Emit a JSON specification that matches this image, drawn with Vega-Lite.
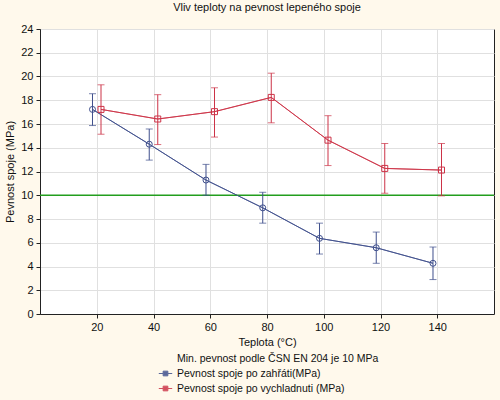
{
  "$schema": "https://vega.github.io/schema/vega-lite/v6.json",
  "width": 454,
  "height": 285,
  "autosize": {"type": "none"},
  "padding": {"left": 40, "top": 29, "right": 6, "bottom": 86},
  "background": "#fff9ec",
  "config": {
    "font": "Liberation Sans",
    "view": {"stroke": "#222", "strokeWidth": 1, "fill": "white"},
    "axis": {"labelFontSize": 11, "titleFontSize": 11, "titleFontWeight": "normal", "labelColor": "#111", "titleColor": "#111", "gridColor": "#e0e0e0", "domainColor": "#222", "tickColor": "#222", "tickSize": 4, "labelOverlap": false},
    "axisY": {"labelPadding": 3, "titlePadding": 5},
    "axisX": {"labelPadding": 3, "titlePadding": 4},
    "legend": {"labelFontSize": 10.5, "labelColor": "#111", "labelLimit": 0}
  },
  "title": {"text": "Vliv teploty na pevnost lepeného spoje", "fontSize": 11, "fontWeight": "normal", "color": "#111", "anchor": "middle", "offset": 10},
  "data": {"values": [
    {"s": "Pevnost spoje po zahřáti(MPa)", "x": 18.5, "y": 17.23, "lo": 15.87, "hi": 18.55},
    {"s": "Pevnost spoje po zahřáti(MPa)", "x": 38.5, "y": 14.3, "lo": 12.96, "hi": 15.58},
    {"s": "Pevnost spoje po zahřáti(MPa)", "x": 58.5, "y": 11.28, "lo": 10.0, "hi": 12.6},
    {"s": "Pevnost spoje po zahřáti(MPa)", "x": 78.5, "y": 8.94, "lo": 7.65, "hi": 10.25},
    {"s": "Pevnost spoje po zahřáti(MPa)", "x": 98.5, "y": 6.37, "lo": 5.05, "hi": 7.65},
    {"s": "Pevnost spoje po zahřáti(MPa)", "x": 118.5, "y": 5.58, "lo": 4.27, "hi": 6.9},
    {"s": "Pevnost spoje po zahřáti(MPa)", "x": 138.5, "y": 4.27, "lo": 2.9, "hi": 5.64},
    {"s": "Pevnost spoje po vychladnuti (MPa)", "x": 21.5, "y": 17.23, "lo": 15.14, "hi": 19.3},
    {"s": "Pevnost spoje po vychladnuti (MPa)", "x": 41.5, "y": 16.42, "lo": 14.27, "hi": 18.47},
    {"s": "Pevnost spoje po vychladnuti (MPa)", "x": 61.5, "y": 17.04, "lo": 14.9, "hi": 19.05},
    {"s": "Pevnost spoje po vychladnuti (MPa)", "x": 81.5, "y": 18.24, "lo": 16.1, "hi": 20.28},
    {"s": "Pevnost spoje po vychladnuti (MPa)", "x": 101.5, "y": 14.64, "lo": 12.5, "hi": 16.7},
    {"s": "Pevnost spoje po vychladnuti (MPa)", "x": 121.5, "y": 12.26, "lo": 10.17, "hi": 14.36},
    {"s": "Pevnost spoje po vychladnuti (MPa)", "x": 141.5, "y": 12.12, "lo": 9.95, "hi": 14.36}
  ]},
  "layer": [
    {
      "mark": {"type": "line", "strokeWidth": 1, "opacity": 0.85},
      "encoding": {
        "x": {"field": "x", "type": "quantitative", "title": "Teplota (°C)", "scale": {"domain": [0, 160], "nice": false, "zero": false}, "axis": {"values": [20, 40, 60, 80, 100, 120, 140]}},
        "y": {"field": "y", "type": "quantitative", "title": "Pevnost spoje (MPa)", "scale": {"domain": [0, 24], "nice": false}, "axis": {"values": [0, 2, 4, 6, 8, 10, 12, 14, 16, 18, 20, 22, 24]}},
        "color": {"field": "s", "type": "nominal",
          "scale": {"domain": ["Min. pevnost podle  ČSN EN 204 je 10 MPa", "Pevnost spoje po zahřáti(MPa)", "Pevnost spoje po vychladnuti (MPa)"], "range": ["rgba(0,0,0,0)", "#3f4f8c", "#cc3347"]},
          "legend": {"title": null, "orient": "none", "legendX": 118, "legendY": 322, "direction": "vertical", "rowPadding": 2, "symbolType": "M-1,0H-0.35M0.35,0H1M-0.35,-0.35H0.35V0.35H-0.35Z", "symbolSize": 180, "symbolStrokeWidth": 1, "symbolFillColor": "transparent", "symbolOpacity": 1}}
      }
    },
    {
      "data": {"values": [{"v": 10}]},
      "mark": {"type": "rule", "color": "#239e1e", "strokeWidth": 1.5},
      "encoding": {"y": {"field": "v", "type": "quantitative", "title": "Pevnost spoje (MPa)", "axis": {"values": [0, 2, 4, 6, 8, 10, 12, 14, 16, 18, 20, 22, 24]}}}
    },
    {
      "mark": {"type": "line", "strokeWidth": 1, "opacity": 0.85},
      "encoding": {
        "x": {"field": "x", "type": "quantitative", "title": "Teplota (°C)", "axis": {"values": [20, 40, 60, 80, 100, 120, 140]}},
        "y": {"field": "y", "type": "quantitative", "title": "Pevnost spoje (MPa)", "axis": {"values": [0, 2, 4, 6, 8, 10, 12, 14, 16, 18, 20, 22, 24]}},
        "color": {"field": "s", "type": "nominal"}
      }
    },
    {
      "mark": {"type": "errorbar", "ticks": {"size": 7, "strokeWidth": 1}, "rule": {"strokeWidth": 1}},
      "encoding": {
        "x": {"field": "x", "type": "quantitative", "title": "Teplota (°C)", "axis": {"values": [20, 40, 60, 80, 100, 120, 140]}},
        "y": {"field": "lo", "type": "quantitative", "title": "Pevnost spoje (MPa)", "axis": {"values": [0, 2, 4, 6, 8, 10, 12, 14, 16, 18, 20, 22, 24]}},
        "y2": {"field": "hi"},
        "color": {"field": "s", "type": "nominal"}
      }
    },
    {
      "mark": {"type": "point", "filled": false, "strokeWidth": 1, "opacity": 1},
      "encoding": {
        "x": {"field": "x", "type": "quantitative", "title": "Teplota (°C)", "axis": {"values": [20, 40, 60, 80, 100, 120, 140]}},
        "y": {"field": "y", "type": "quantitative", "title": "Pevnost spoje (MPa)", "axis": {"values": [0, 2, 4, 6, 8, 10, 12, 14, 16, 18, 20, 22, 24]}},
        "color": {"field": "s", "type": "nominal"},
        "shape": {"field": "s", "type": "nominal", "scale": {"domain": ["Pevnost spoje po zahřáti(MPa)", "Pevnost spoje po vychladnuti (MPa)"], "range": ["circle", "square"]}, "legend": null},
        "size": {"value": 36}
      }
    }
  ]
}
